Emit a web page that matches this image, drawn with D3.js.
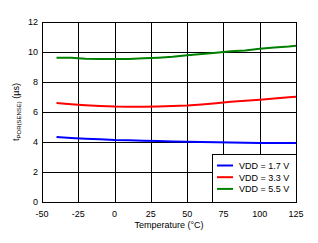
<!DOCTYPE html>
<html>
<head>
<meta charset="utf-8">
<script src="https://cdn.jsdelivr.net/npm/d3@7"></script>
<style>
  body { margin: 0; background: #fff; }
  svg { display: block; font-family: Arial, "Liberation Sans", sans-serif; }
</style>
</head>
<body>
<svg id="chart" width="318" height="243"></svg>
<script>
"use strict";

const temps = [-40, -30, -20, -10, 0, 10, 20, 30, 40, 50, 60, 70, 80, 90, 100, 110, 120, 125];
const vdd17 = [4.33, 4.27, 4.22, 4.18, 4.13, 4.11, 4.08, 4.06, 4.04, 4.02, 4.0, 3.98, 3.96, 3.95, 3.94, 3.93, 3.93, 3.93];
const vdd33 = [6.6, 6.52, 6.45, 6.4, 6.36, 6.35, 6.35, 6.37, 6.4, 6.43, 6.5, 6.58, 6.68, 6.75, 6.82, 6.9, 6.98, 7.02];
const vdd55 = [9.62, 9.61, 9.55, 9.53, 9.53, 9.53, 9.58, 9.62, 9.68, 9.78, 9.87, 9.95, 10.05, 10.1, 10.22, 10.3, 10.37, 10.42];

const seriesNames = ["VDD = 1.7 V", "VDD = 3.3 V", "VDD = 5.5 V"];
const seriesColors = ["#0000ff", "#ff0000", "#008000"];
const xTicks = [-50, -25, 0, 25, 50, 75, 100, 125];
const yTicks = [0, 2, 4, 6, 8, 10, 12];

const series = [vdd17, vdd33, vdd55].map((vals, i) => ({
    name: seriesNames[i],
    color: seriesColors[i],
    points: temps.map((t, j) => ({ t: t, v: vals[j] }))
}));

const svg = d3.select("#chart");

const plotL = 42, plotR = 296, plotT = 22, plotB = 202;

const x = d3.scaleLinear().domain([-50, 125]).range([plotL, plotR]);
const y = d3.scaleLinear().domain([0, 12]).range([plotB, plotT]);

// grid
svg.append("g")
    .attr("transform", `translate(0, ${plotB})`)
    .call(d3.axisBottom(x).tickValues(xTicks).tickSize(-(plotB - plotT)).tickFormat(""))
    .call(g => g.select(".domain").remove())
    .selectAll("line").attr("stroke", "#000").attr("shape-rendering", "crispEdges");

svg.append("g")
    .attr("transform", `translate(${plotL}, 0)`)
    .call(d3.axisLeft(y).tickValues(yTicks).tickSize(-(plotR - plotL)).tickFormat(""))
    .call(g => g.select(".domain").remove())
    .selectAll("line").attr("stroke", "#000").attr("shape-rendering", "crispEdges");

// frame
svg.append("rect")
    .attr("x", plotL).attr("y", plotT)
    .attr("width", plotR - plotL).attr("height", plotB - plotT)
    .attr("fill", "none").attr("stroke", "#000")
    .attr("shape-rendering", "crispEdges");

// tick labels
svg.append("g").selectAll("text").data(xTicks).enter().append("text")
    .attr("x", d => x(d))
    .attr("y", plotB + 15)
    .attr("text-anchor", "middle")
    .attr("font-size", 9)
    .text(d => d);

svg.append("g").selectAll("text").data(yTicks).enter().append("text")
    .attr("x", plotL - 4)
    .attr("y", d => y(d) + 3)
    .attr("text-anchor", "end")
    .attr("font-size", 9)
    .text(d => d);

// axis titles
svg.append("text")
    .attr("x", (plotL + plotR) / 2)
    .attr("y", plotB + 26)
    .attr("text-anchor", "middle")
    .attr("font-size", 9)
    .text("Temperature (°C)");

const yTitle = svg.append("text")
    .attr("transform", `translate(19, ${(plotT + plotB) / 2}) rotate(-90)`)
    .attr("text-anchor", "middle")
    .attr("font-size", 9);
yTitle.append("tspan").text("t");
yTitle.append("tspan").attr("font-size", 6).attr("dy", 2).text("POR(SENSE)");
yTitle.append("tspan").attr("dy", -2).text(" (µs)");

// lines
const line = d3.line().x(d => x(d.t)).y(d => y(d.v));

svg.append("g").selectAll("path").data(series).enter().append("path")
    .attr("d", d => line(d.points))
    .attr("fill", "none")
    .attr("stroke", d => d.color)
    .attr("stroke-width", 2);

// legend
const lx = 212, ly = 154, lw = 84, lh = 48;
svg.append("rect")
    .attr("x", lx + 1).attr("y", ly + 1).attr("width", lw).attr("height", lh)
    .attr("fill", "#000").attr("shape-rendering", "crispEdges");
svg.append("rect")
    .attr("x", lx).attr("y", ly).attr("width", lw).attr("height", lh)
    .attr("fill", "#fff").attr("stroke", "#000")
    .attr("shape-rendering", "crispEdges");

const legendRows = svg.append("g").selectAll("g").data(series).enter().append("g")
    .attr("transform", (d, i) => `translate(${lx}, ${ly + 11.5 + i * 11.7})`);
legendRows.append("line")
    .attr("x1", 5).attr("x2", 21)
    .attr("stroke", d => d.color).attr("stroke-width", 2);
legendRows.append("text")
    .attr("x", 27).attr("y", 3.5)
    .attr("font-size", 9)
    .text(d => d.name);
</script>
</body>
</html>
